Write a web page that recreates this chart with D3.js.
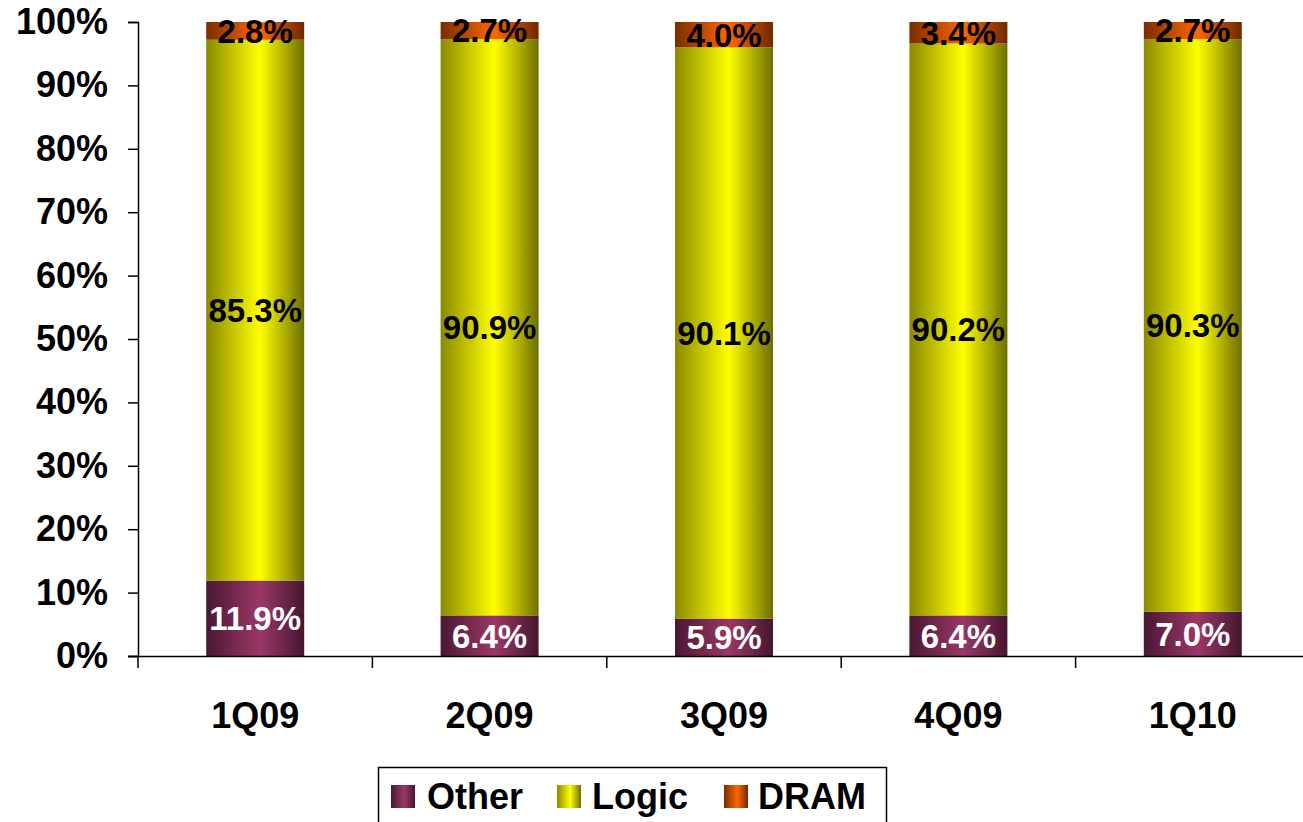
<!DOCTYPE html>
<html><head><meta charset="utf-8">
<script src="https://cdn.jsdelivr.net/npm/d3@7/dist/d3.min.js"></script>
<style>body{margin:0;background:#fff}svg{display:block;font-family:Arial,"Liberation Sans",Helvetica,sans-serif;font-weight:bold}</style>
</head><body><svg id="c" width="1303" height="822"></svg>
<script>
const categories = ["1Q09","2Q09","3Q09","4Q09","1Q10"];
const seriesNames = ["Other","Logic","DRAM"];
const other = [11.9, 6.4, 5.9, 6.4, 7.0];
const logic = [85.3, 90.9, 90.1, 90.2, 90.3];
const dram  = [2.8, 2.7, 4.0, 3.4, 2.7];
const yTicks = [0,10,20,30,40,50,60,70,80,90,100];

const svg = d3.select("#c");
const defs = svg.append("defs");
const grads = {
  Other: ["#4a1832","#9b3766","#451630"],
  Logic: ["#8a8a00","#ffff00","#6e6e00"],
  DRAM:  ["#7a2e00","#ff6600","#6e2800"]
};
Object.entries(grads).forEach(([k,c])=>{
  const g = defs.append("linearGradient").attr("id","g"+k).attr("x1","0").attr("x2","1").attr("y1","0").attr("y2","0");
  g.append("stop").attr("offset","0%").attr("stop-color",c[0]);
  g.append("stop").attr("offset","55%").attr("stop-color",c[1]);
  g.append("stop").attr("offset","100%").attr("stop-color",c[2]);
});

const x = d3.scaleBand().domain(categories).range([138, 1310]).paddingInner(0.582).paddingOuter(0.291);
const y = d3.scaleLinear().domain([0,100]).range([656, 22]);

const rows = categories.map((c,i)=>({cat:c, Other:other[i], Logic:logic[i], DRAM:dram[i]}));
const stack = d3.stack().keys(seriesNames)(rows);

const labelColor = {Other:"#fff", Logic:"#000", DRAM:"#000"};
stack.forEach(layer=>{
  const key = layer.key;
  const g = svg.append("g");
  g.selectAll("rect").data(layer).join("rect")
    .attr("x", d=>x(d.data.cat)).attr("width", x.bandwidth())
    .attr("y", d=>y(d[1])).attr("height", d=>y(d[0])-y(d[1]))
    .attr("fill", "url(#g"+key+")");
  g.selectAll("text").data(layer).join("text")
    .attr("x", d=>x(d.data.cat)+x.bandwidth()/2)
    .attr("y", d=>(y(d[0])+y(d[1]))/2)
    .attr("dy","0.36em").attr("text-anchor","middle")
    .attr("font-size",33).attr("fill",labelColor[key])
    .text(d=>d.data[key].toFixed(1)+"%");
});

// Y axis
const yAxis = svg.append("g").attr("transform","translate(138,0)")
  .call(d3.axisLeft(y).tickValues(yTicks).tickSize(10).tickPadding(20).tickFormat(d=>d+"%"));
yAxis.selectAll("text").attr("font-size",36).attr("font-weight","bold").attr("fill","#000").attr("font-family","Arial, 'Liberation Sans', sans-serif");
yAxis.selectAll("line,path").attr("stroke","#000").attr("stroke-width",1.5);

// X axis line and boundary ticks
svg.append("line").attr("x1",128).attr("x2",1303).attr("y1",656.5).attr("y2",656.5).attr("stroke","#000").attr("stroke-width",1.5);
const step = x.step();
svg.selectAll(".xt").data(categories).join("line")
  .attr("x1", c=>x(c)-(step-x.bandwidth())/2).attr("x2", c=>x(c)-(step-x.bandwidth())/2)
  .attr("y1",656).attr("y2",668).attr("stroke","#000").attr("stroke-width",1.5);
svg.selectAll(".xl").data(categories).join("text")
  .attr("x", c=>x(c)+x.bandwidth()/2).attr("y",715).attr("dy","0.36em")
  .attr("text-anchor","middle").attr("font-size",36).text(c=>c);

// Legend
const lg = svg.append("g");
lg.append("rect").attr("x",378.5).attr("y",767.5).attr("width",508).attr("height",60).attr("fill","#fff").attr("stroke","#000").attr("stroke-width",1.5);
const legPos = [{sw:391, tx:427},{sw:557, tx:592},{sw:724, tx:758}];
seriesNames.forEach((s,i)=>{
  lg.append("rect").attr("x",legPos[i].sw).attr("y",785).attr("width",24).attr("height",23).attr("fill","url(#g"+s+")");
  lg.append("text").attr("x",legPos[i].tx).attr("y",796).attr("dy","0.36em").attr("font-size",36).text(s);
});
</script></body></html>
